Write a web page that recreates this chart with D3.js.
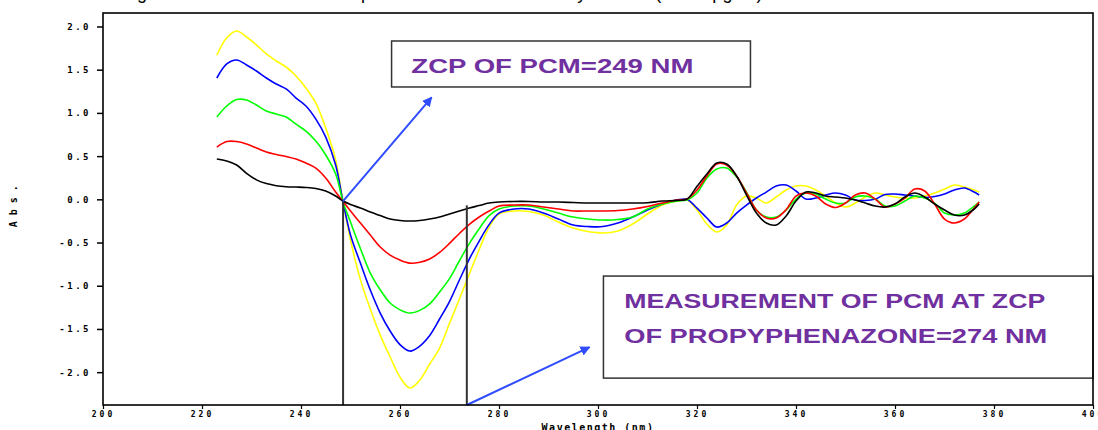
<!DOCTYPE html>
<html>
<head>
<meta charset="utf-8">
<script src="https://cdn.jsdelivr.net/npm/d3@7"></script>
<style>
  body { margin: 0; background: #fff; }
  svg { display: block; }
  .tick text { font-family: "DejaVu Sans Mono", monospace; font-weight: bold; }
  .note { font-family: "Liberation Sans", Arial, sans-serif; font-weight: bold; fill: #7030a0; }
</style>
</head>
<body>
<script>
// wavelength grid (nm) shared by every trace
const wavelengths = [223,225,227,229,231,233,235,237,239,241,243,245,247,248.5,
  250,252,254,256,258,260,262,264,266,268,270,272,274,276,278,280,
  283,286,289,292,295,298,301,304,307,310,313,316,
  318,320,322,324,326,328,330,332,334,336,338,340,342,344,346,348,350,
  352,354,356,358,360,362,364,366,368,370,372,374,376,377];

// first derivative traces
const blackVals = [0.466,0.443,0.397,0.300,0.225,0.182,0.158,0.146,0.142,0.137,0.125,0.096,0.038,-0.020,
  -0.060,-0.100,-0.147,-0.188,-0.228,-0.245,-0.251,-0.245,-0.228,-0.205,-0.170,-0.135,-0.101,-0.072,-0.043,-0.031,
  -0.025,-0.025,-0.031,-0.031,-0.037,-0.043,-0.043,-0.043,-0.043,-0.040,-0.020,-0.012,
  0.003,0.150,0.293,0.420,0.409,0.270,0.050,-0.159,-0.274,-0.297,-0.193,-0.020,0.084,0.073,0.038,0.027,0.015,
  -0.008,-0.043,-0.078,-0.089,-0.054,0.027,0.073,0.027,-0.054,-0.124,-0.182,-0.182,-0.112,-0.054];

const redVals = [0.605,0.669,0.669,0.640,0.594,0.547,0.519,0.495,0.466,0.420,0.362,0.247,0.084,-0.025,
  -0.135,-0.274,-0.414,-0.552,-0.645,-0.703,-0.738,-0.728,-0.690,-0.615,-0.510,-0.395,-0.290,-0.205,-0.136,-0.078,
  -0.066,-0.066,-0.089,-0.112,-0.135,-0.135,-0.135,-0.130,-0.112,-0.083,-0.043,-0.008,
  0.003,0.108,0.270,0.409,0.397,0.270,0.073,-0.124,-0.216,-0.216,-0.120,0.038,0.073,0.038,-0.054,-0.095,-0.043,
  0.050,0.073,0.003,-0.089,-0.054,0.015,0.119,0.096,-0.054,-0.228,-0.274,-0.228,-0.101,-0.031];

const greenVals = [0.953,1.080,1.155,1.149,1.091,1.022,0.987,0.952,0.870,0.789,0.674,0.513,0.293,-0.031,
  -0.263,-0.569,-0.853,-1.046,-1.200,-1.279,-1.316,-1.285,-1.209,-1.072,-0.917,-0.711,-0.513,-0.340,-0.188,-0.113,
  -0.078,-0.078,-0.112,-0.159,-0.205,-0.228,-0.240,-0.234,-0.205,-0.112,-0.054,-0.020,
  -0.008,0.073,0.247,0.351,0.362,0.258,0.084,-0.124,-0.205,-0.205,-0.124,0.003,0.073,0.061,0.003,-0.043,-0.043,
  0.027,0.038,0.003,-0.078,-0.078,-0.020,0.038,0.015,-0.043,-0.159,-0.182,-0.159,-0.078,-0.031];

const blueVals = [1.404,1.566,1.612,1.554,1.485,1.404,1.334,1.277,1.172,1.080,0.928,0.720,0.397,-0.031,
  -0.413,-0.738,-1.050,-1.316,-1.524,-1.681,-1.756,-1.698,-1.576,-1.385,-1.183,-0.934,-0.691,-0.483,-0.293,-0.159,
  -0.112,-0.112,-0.159,-0.228,-0.297,-0.315,-0.315,-0.274,-0.205,-0.124,-0.054,-0.008,
  -0.002,-0.101,-0.216,-0.321,-0.274,-0.159,-0.066,0.015,0.084,0.154,0.166,0.096,0.003,0.015,0.050,0.073,0.050,
  -0.008,-0.014,0.003,0.056,0.061,0.050,0.038,0.021,0.032,0.061,0.108,0.131,0.084,0.050];

const yellowVals = [1.667,1.870,1.948,1.878,1.786,1.682,1.601,1.531,1.427,1.288,1.114,0.825,0.455,-0.031,
  -0.471,-0.929,-1.270,-1.571,-1.822,-2.057,-2.184,-2.091,-1.906,-1.721,-1.436,-1.154,-0.865,-0.581,-0.321,-0.170,
  -0.135,-0.141,-0.182,-0.263,-0.332,-0.373,-0.390,-0.367,-0.286,-0.170,-0.066,-0.020,
  -0.008,-0.124,-0.286,-0.378,-0.297,-0.066,0.038,0.015,-0.043,0.027,0.108,0.154,0.154,0.108,0.038,-0.043,-0.089,
  -0.043,0.027,0.073,0.050,0.027,0.015,0.015,0.038,0.073,0.119,0.166,0.142,0.108,0.084];

const seriesNames = ["yellow","blue","green","red","black"];
const seriesColors = ["#ffff00","#0000ff","#00ff00","#ff0000","#000000"];
const seriesValues = [yellowVals, blueVals, greenVals, redVals, blackVals];

const xTicks = [200,220,240,260,280,300,320,340,360,380,400];
const xTickLabels = ["200","220","240","260","280","300","320","340","360","380","400"];
const yTicks = [-2.0,-1.5,-1.0,-0.5,0.0,0.5,1.0,1.5,2.0];
const yTickLabels = ["-2.0","-1.5","-1.0","-0.5","0.0","0.5","1.0","1.5","2.0"];

// annotations: zero crossing lines and callouts
const zcpLines = [{nm:248.5, top:-0.02}, {nm:273.5, top:-0.07}];
const arrows = [
  {from:[248.5,-0.02], to:[266.4,1.18]},
  {from:[273.5,-2.38], to:[298.3,-1.71]}
];
const notes = [
  {x0:258.3, x1:330.8, y0:1.832, y1:1.30, lines:["ZCP OF PCM=249 NM"], tx:262.3, ty:[1.46], widths:[282]},
  {x0:301.1, x1:400, y0:-0.888, y1:-2.069, lines:["MEASUREMENT OF PCM AT ZCP","OF PROPYPHENAZONE=274 NM"],
   tx:305.3, ty:[-1.259, -1.66], widths:[421,423]}
];

const W = 1098, H = 430;
const margin = {top:13, right:5, bottom:25, left:103};

const svg = d3.select("body").append("svg").attr("width",W).attr("height",H);

const x = d3.scaleLinear().domain([200,400]).range([margin.left, W - margin.right]);
const y = d3.scaleLinear().domain([-2.38,2.156]).range([H - margin.bottom, margin.top]);

svg.append("defs").append("marker")
  .attr("id","head")
  .attr("viewBox","0 0 10 10")
  .attr("refX",9).attr("refY",5)
  .attr("markerWidth",5).attr("markerHeight",5)
  .attr("markerUnits","strokeWidth")
  .attr("orient","auto")
  .append("path").attr("d","M0,0 L10,5 L0,10 z").attr("fill","#2f4cff");

// caption sits above the frame, only its descenders show (as in the source image)
svg.append("text")
  .attr("x",122).attr("y",-1)
  .attr("font-family","Liberation Sans, Arial, sans-serif")
  .attr("font-size",18)
  .text("Figure 3: Overlain derivative spectra of PCM in the ternary mixture (10-50 μg/ml)");

// axes
const yAxis = d3.axisLeft(y).tickValues(yTicks).tickSize(6).tickPadding(6)
  .tickFormat((d,i) => yTickLabels[i]);
const xAxis = d3.axisBottom(x).tickValues(xTicks).tickSize(4).tickPadding(2)
  .tickFormat((d,i) => xTickLabels[i]);

const gy = svg.append("g").attr("transform",`translate(${margin.left},0)`).call(yAxis);
gy.select(".domain").remove();
gy.selectAll(".tick line").attr("stroke","#000").attr("stroke-width",1.5);
gy.selectAll(".tick text").attr("font-size",9).attr("letter-spacing","2.5px");

const gx = svg.append("g").attr("transform",`translate(0,${H - margin.bottom})`).call(xAxis);
gx.select(".domain").remove();
gx.selectAll(".tick line").attr("stroke","#000").attr("stroke-width",1.2);
gx.selectAll(".tick text").attr("font-size",8).attr("letter-spacing","3px");

svg.append("text")
  .attr("x",x(300)).attr("y",431)
  .attr("text-anchor","middle")
  .attr("font-family","DejaVu Sans Mono, monospace").attr("font-weight","bold")
  .attr("font-size",10).attr("letter-spacing","1.5px")
  .text("Wavelength (nm)");

svg.append("text")
  .attr("transform",`translate(17,${y(0) + 4}) rotate(-90)`)
  .attr("text-anchor","middle")
  .attr("font-family","DejaVu Sans Mono, monospace").attr("font-weight","bold")
  .attr("font-size",10).attr("letter-spacing","6px")
  .text("Abs.");

// traces
const line = d3.line()
  .x((d,i) => x(wavelengths[i]))
  .y(d => y(d))
  .curve(d3.curveCatmullRom.alpha(0.5));

svg.append("g").selectAll("path")
  .data(seriesValues)
  .join("path")
  .attr("d", line)
  .attr("fill","none")
  .attr("stroke",(d,i) => seriesColors[i])
  .attr("stroke-width",1.6)
  .attr("class",(d,i) => "trace-" + seriesNames[i]);

// ZCP verticals
svg.append("g").selectAll("line")
  .data(zcpLines)
  .join("line")
  .attr("x1",d => x(d.nm)).attr("x2",d => x(d.nm))
  .attr("y1",d => y(d.top)).attr("y2",y(-2.38))
  .attr("stroke","#333").attr("stroke-width",2);

// arrows
svg.append("g").selectAll("line")
  .data(arrows)
  .join("line")
  .attr("x1",d => x(d.from[0])).attr("y1",d => y(d.from[1]))
  .attr("x2",d => x(d.to[0])).attr("y2",d => y(d.to[1]))
  .attr("stroke","#2f4cff").attr("stroke-width",2)
  .attr("marker-end","url(#head)");

// callout boxes
const ng = svg.append("g").selectAll("g").data(notes).join("g");
ng.append("rect")
  .attr("x",d => x(d.x0)).attr("y",d => y(d.y0))
  .attr("width",d => x(d.x1) - x(d.x0)).attr("height",d => y(d.y1) - y(d.y0))
  .attr("fill","#fff").attr("stroke","#333").attr("stroke-width",1.5);
ng.each(function(d){
  const g = d3.select(this);
  d.lines.forEach((t,i) => {
    g.append("text").attr("class","note")
      .attr("x",x(d.tx)).attr("y",y(d.ty[i]))
      .attr("font-size",21)
      .attr("textLength",d.widths[i]).attr("lengthAdjust","spacingAndGlyphs")
      .text(t);
  });
});

// frame
svg.append("rect")
  .attr("x",margin.left).attr("y",margin.top)
  .attr("width",W - margin.left - margin.right)
  .attr("height",H - margin.top - margin.bottom)
  .attr("fill","none").attr("stroke","#000").attr("stroke-width",1.6);
</script>
</body>
</html>
